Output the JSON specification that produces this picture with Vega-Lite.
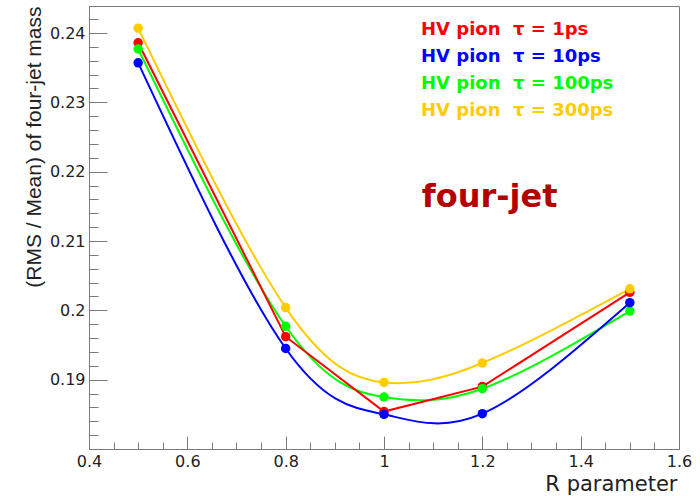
{
  "$schema": "https://vega.github.io/schema/vega-lite/v6.json",
  "width": 590,
  "height": 443,
  "autosize": {"type": "none"},
  "padding": {"left": 89, "top": 6, "right": 21, "bottom": 47},
  "background": "white",
  "config": {"view": {"stroke": "#7a7a7a", "strokeWidth": 1}, "axis": {"grid": false}},
  "resolve": {"axis": {"x": "independent", "y": "independent"}},
  "layer": [
    {
      "data": {"values": [
        {"R": 0.5, "v": 0.2386, "tau": 1, "series": "HV pion\u00a0 τ = 1ps"},
        {"R": 0.8, "v": 0.1962, "tau": 1, "series": "HV pion\u00a0 τ = 1ps"},
        {"R": 1.0, "v": 0.1854, "tau": 1, "series": "HV pion\u00a0 τ = 1ps"},
        {"R": 1.2, "v": 0.1890, "tau": 1, "series": "HV pion\u00a0 τ = 1ps"},
        {"R": 1.5, "v": 0.2026, "tau": 1, "series": "HV pion\u00a0 τ = 1ps"},
        {"R": 0.5, "v": 0.2407, "tau": 300, "series": "HV pion\u00a0 τ = 300ps"},
        {"R": 0.8, "v": 0.2004, "tau": 300, "series": "HV pion\u00a0 τ = 300ps"},
        {"R": 1.0, "v": 0.1896, "tau": 300, "series": "HV pion\u00a0 τ = 300ps"},
        {"R": 1.2, "v": 0.1924, "tau": 300, "series": "HV pion\u00a0 τ = 300ps"},
        {"R": 1.5, "v": 0.2031, "tau": 300, "series": "HV pion\u00a0 τ = 300ps"},
        {"R": 0.5, "v": 0.2377, "tau": 100, "series": "HV pion\u00a0 τ = 100ps"},
        {"R": 0.8, "v": 0.1977, "tau": 100, "series": "HV pion\u00a0 τ = 100ps"},
        {"R": 1.0, "v": 0.1875, "tau": 100, "series": "HV pion\u00a0 τ = 100ps"},
        {"R": 1.2, "v": 0.1887, "tau": 100, "series": "HV pion\u00a0 τ = 100ps"},
        {"R": 1.5, "v": 0.1999, "tau": 100, "series": "HV pion\u00a0 τ = 100ps"},
        {"R": 0.5, "v": 0.2357, "tau": 10, "series": "HV pion\u00a0 τ = 10ps"},
        {"R": 0.8, "v": 0.1945, "tau": 10, "series": "HV pion\u00a0 τ = 10ps"},
        {"R": 1.0, "v": 0.1850, "tau": 10, "series": "HV pion\u00a0 τ = 10ps"},
        {"R": 1.2, "v": 0.1851, "tau": 10, "series": "HV pion\u00a0 τ = 10ps"},
        {"R": 1.5, "v": 0.2011, "tau": 10, "series": "HV pion\u00a0 τ = 10ps"}
      ]},
      "encoding": {
        "x": {
          "field": "R", "type": "quantitative",
          "scale": {"domain": [0.4, 1.6], "nice": false, "zero": false},
          "axis": {
            "title": "R parameter",
            "values": [0.4, 0.45, 0.5, 0.55, 0.6, 0.65, 0.7, 0.75, 0.8, 0.85, 0.9, 0.95, 1.0, 1.05, 1.1, 1.15, 1.2, 1.25, 1.3, 1.35, 1.4, 1.45, 1.5, 1.55, 1.6],
            "tickSize": {"condition": {"test": "abs(datum.value*5 - round(datum.value*5)) < 1e-6", "value": -13}, "value": -7},
            "labelExpr": "abs(datum.value*5 - round(datum.value*5)) < 1e-6 ? format(datum.value, '~g') : ''",
            "labelPadding": 17,
            "labelFlush": false,
            "labelOverlap": false,
            "labelBound": false,
            "labelFont": "DejaVu Sans",
            "labelFontSize": 16,
            "labelColor": "#222",
            "domainColor": "#7a7a7a",
            "tickColor": "#7a7a7a",
            "titleFont": "DejaVu Sans",
            "titleFontSize": 21,
            "titleFontWeight": "normal",
            "titleColor": "#222",
            "titleAnchor": "end",
            "titleAlign": "right",
            "titleBaseline": "alphabetic",
            "titleX": 588,
            "titleY": 41
          }
        },
        "y": {
          "field": "v", "type": "quantitative",
          "scale": {"domain": [0.18, 0.2439], "nice": false, "zero": false},
          "axis": {
            "title": "(RMS / Mean) of four-jet mass",
            "values": [0.18, 0.182, 0.184, 0.186, 0.188, 0.19, 0.192, 0.194, 0.196, 0.198, 0.2, 0.202, 0.204, 0.206, 0.208, 0.21, 0.212, 0.214, 0.216, 0.218, 0.22, 0.222, 0.224, 0.226, 0.228, 0.23, 0.232, 0.234, 0.236, 0.238, 0.24, 0.242],
            "tickSize": {"condition": {"test": "abs(datum.value*100 - round(datum.value*100)) < 1e-6", "value": -18}, "value": -9},
            "labelExpr": "abs(datum.value*100 - round(datum.value*100)) < 1e-6 && datum.value > 0.1805 ? format(datum.value, '~g') : ''",
            "labelPadding": 22,
            "labelOverlap": false,
            "labelBound": false,
            "labelFlush": false,
            "labelFont": "DejaVu Sans",
            "labelFontSize": 16,
            "labelColor": "#222",
            "domainColor": "#7a7a7a",
            "tickColor": "#7a7a7a",
            "titleFont": "Liberation Sans",
            "titleFontSize": 21,
            "titleFontWeight": "normal",
            "titleColor": "#222",
            "titleAnchor": "end",
            "titleBaseline": "alphabetic",
            "titleX": -49
          }
        },
        "color": {
          "field": "series", "type": "nominal",
          "scale": {
            "domain": ["HV pion\u00a0 τ = 1ps", "HV pion\u00a0 τ = 10ps", "HV pion\u00a0 τ = 100ps", "HV pion\u00a0 τ = 300ps"],
            "range": ["#ff0000", "#0000ff", "#00ff00", "#ffcc00"]
          },
          "legend": {
            "title": null,
            "orient": "none",
            "legendX": 314,
            "legendY": 15,
            "direction": "vertical",
            "columns": 1,
            "symbolSize": 0,
            "symbolStrokeWidth": 0,
            "symbolOpacity": 0,
            "labelOffset": 0,
            "padding": 0,
            "labelFont": "DejaVu Sans",
            "labelFontSize": 18,
            "labelFontWeight": "bold",
            "labelLimit": 400,
            "rowPadding": 9,
            "encode": {"labels": {"update": {"fill": {"scale": "color", "field": "value"}}}}
          }
        }
      },
      "layer": [
        {
          "transform": [{"filter": "datum.tau != 1"}],
          "mark": {"type": "line", "interpolate": "natural", "strokeWidth": 2}
        },
        {
          "transform": [{"filter": "datum.tau == 1"}],
          "mark": {"type": "line", "strokeWidth": 2}
        },
        {
          "mark": {"type": "point", "filled": true, "size": 90, "opacity": 1}
        }
      ]
    },
    {
      "data": {"values": [{"label": "four-jet"}]},
      "mark": {"type": "text", "font": "DejaVu Sans", "fontSize": 32, "fontWeight": "bold", "align": "left", "baseline": "alphabetic", "color": "#b40000"},
      "encoding": {
        "x": {"datum": 1.077, "type": "quantitative", "axis": null},
        "y": {"datum": 0.2149, "type": "quantitative", "axis": null},
        "text": {"field": "label", "type": "nominal"}
      }
    }
  ]
}
